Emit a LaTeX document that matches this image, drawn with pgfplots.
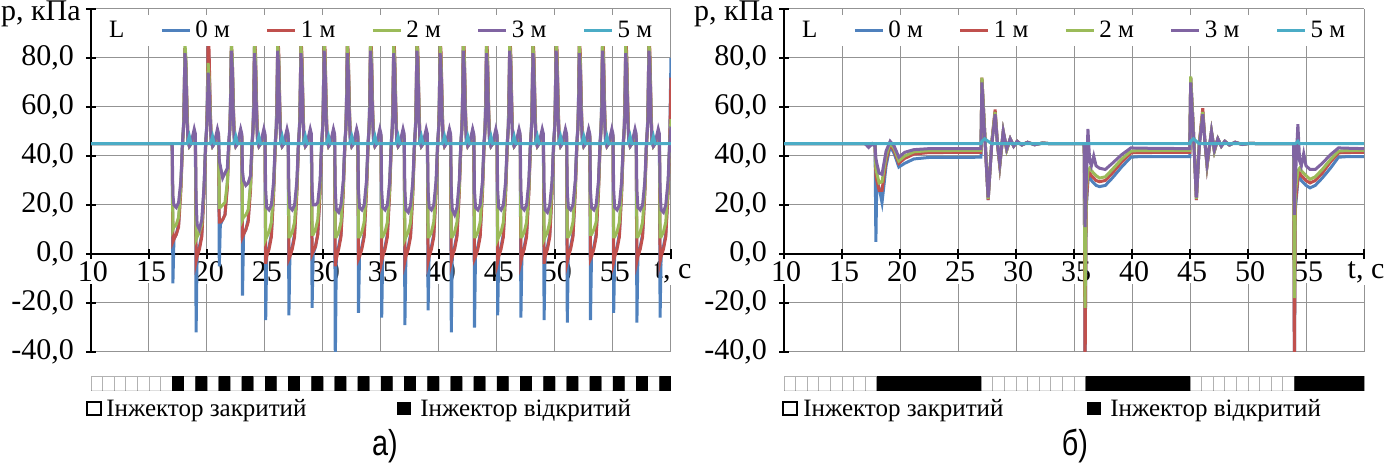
\documentclass[border=0pt]{standalone}
\usepackage{fontspec}
\setmainfont{Liberation Serif}
\setsansfont{Liberation Sans}
\usepackage{pgfplots}
\usepackage{pgfplotstable}
\pgfplotsset{compat=1.18}

\definecolor{c0}{HTML}{4F81BD}
\definecolor{c1}{HTML}{C0504D}
\definecolor{c2}{HTML}{9BBB59}
\definecolor{c3}{HTML}{8064A2}
\definecolor{c5}{HTML}{4BACC6}
\newcommand\fs{\fontsize{12.5}{14}\selectfont}
\newcommand\ft{\fontsize{15}{17}\selectfont}

% a) pulsed mode: t, L=0,1,2,3,5 m
\pgfplotstableread[row sep=\\]{
t b r g p c\\
10 45 45 45 45 45\\ 16.98 45 45 45 45 45\\
17.00 45 45 45 45 45\\ 17.06 -12 5 10 24 45\\ 17.15 6 6 11 20 45\\ 17.35 8 8 12 19 45\\ 17.55 12 11 15 21 45\\ 17.75 28 26 28 30 45\\ 17.88 45 43 44 45 45\\ 17.97 52 51 51 51 45\\ 18.02 62 60 58 56 45\\ 18.10 84 84 86 82 45\\ 18.18 78 78 80 75 45\\ 18.28 58 60 58 55 45\\ 18.36 46 47 47 46 46\\ 18.48 44 44 44 44 48\\ 18.62 45 45 45 45 45\\ 18.90 49 49 50 51 45\\
19.00 47 48 48 49 45\\ 19.06 -32 -3 6 22 45\\ 19.15 0 -1 7 12 45\\ 19.35 3 2 9 10 45\\ 19.55 8 7 12 14 45\\ 19.75 27 25 27 28 45\\ 19.88 45 43 44 45 45\\ 19.97 52 51 51 51 45\\ 20.02 62 60 58 56 45\\ 20.10 85 89 78 74 45\\ 20.18 79 83 72 68 45\\ 20.28 58 60 58 55 45\\ 20.36 46 47 47 46 46\\ 20.48 44 44 44 44 48\\ 20.62 45 45 45 45 45\\ 20.90 49 49 50 51 45\\
21.00 47 48 48 49 45\\ 21.06 -5 13 19 38 45\\ 21.15 12 13 19 36 45\\ 21.35 14 14 20 31 45\\ 21.55 16 16 21 33 45\\ 21.75 28 27 29 35 45\\ 21.88 45 43 44 46 45\\ 21.97 52 51 51 51 45\\ 22.02 62 60 58 56 45\\ 22.10 84 86 86 83 45\\ 22.18 78 80 80 76 45\\ 22.28 58 60 58 55 45\\ 22.36 46 47 47 46 46\\ 22.48 44 44 44 44 48\\ 22.62 45 45 45 45 45\\ 22.90 49 49 50 51 45\\
23.00 47 48 48 49 45\\ 23.06 -17 7 14 34 45\\ 23.15 8 8 15 30 45\\ 23.35 10 10 16 28 45\\ 23.55 14 13 18 29 45\\ 23.75 28 26 28 32 45\\ 23.88 45 43 44 45 45\\ 23.97 52 51 51 51 45\\ 24.02 62 60 58 56 45\\ 24.10 86 88 86 82 45\\ 24.18 80 82 80 75 45\\ 24.28 58 60 58 55 45\\ 24.36 46 47 47 46 46\\ 24.48 44 44 44 44 48\\ 24.62 45 45 45 45 45\\ 24.90 49 49 50 51 45\\
25.00 47 48 48 49 45\\ 25.06 -27 -4 6 26 45\\ 25.15 0 -1 7 19 45\\ 25.35 3 2 9 18 45\\ 25.55 8 7 13 20 45\\ 25.75 27 25 27 30 45\\ 25.88 45 43 44 45 45\\ 25.97 52 51 51 51 45\\ 26.02 62 60 58 56 45\\ 26.10 86 89 86 83 45\\ 26.18 80 83 80 76 45\\ 26.28 58 60 58 55 45\\ 26.36 46 47 47 46 46\\ 26.48 44 44 44 44 48\\ 26.62 45 45 45 45 45\\ 26.90 49 49 50 51 45\\
27.00 47 48 48 49 45\\ 27.06 -25 -2 7 26 45\\ 27.15 0 -1 7 19 45\\ 27.35 3 2 9 18 45\\ 27.55 8 7 13 20 45\\ 27.75 27 25 27 30 45\\ 27.88 45 43 44 45 45\\ 27.97 52 51 51 51 45\\ 28.02 62 60 58 56 45\\ 28.10 85 88 85 82 45\\ 28.18 79 82 79 75 45\\ 28.28 58 60 58 55 45\\ 28.36 46 47 47 46 46\\ 28.48 44 44 44 44 48\\ 28.62 45 45 45 45 45\\ 28.90 49 49 50 51 45\\
29.00 47 48 48 49 45\\ 29.06 -22 0 8 26 45\\ 29.15 0 1 8 20 45\\ 29.35 3 3 10 20 45\\ 29.55 8 8 14 21 45\\ 29.75 27 25 27 30 45\\ 29.88 45 43 44 45 45\\ 29.97 52 51 51 51 45\\ 30.02 62 60 58 56 45\\ 30.10 86 89 86 83 45\\ 30.18 80 83 80 76 45\\ 30.28 58 60 58 55 45\\ 30.36 46 47 47 46 46\\ 30.48 44 44 44 44 48\\ 30.62 45 45 45 45 45\\ 30.90 49 49 50 51 45\\
31.00 47 48 48 49 45\\ 31.06 -45 -5 7 26 45\\ 31.15 0 -2 7 18 45\\ 31.35 3 2 9 17 45\\ 31.55 8 7 13 20 45\\ 31.75 27 25 27 30 45\\ 31.88 45 43 44 45 45\\ 31.97 52 51 51 51 45\\ 32.02 62 60 58 56 45\\ 32.10 85 88 85 82 45\\ 32.18 79 82 79 75 45\\ 32.28 58 60 58 55 45\\ 32.36 46 47 47 46 46\\ 32.48 44 44 44 44 48\\ 32.62 45 45 45 45 45\\ 32.90 49 49 50 51 45\\
33.00 47 48 48 49 45\\ 33.06 -24 -2 7 26 45\\ 33.15 0 -1 7 19 45\\ 33.35 3 2 9 18 45\\ 33.55 8 7 13 20 45\\ 33.75 27 25 27 30 45\\ 33.88 45 43 44 45 45\\ 33.97 52 51 51 51 45\\ 34.02 62 60 58 56 45\\ 34.10 86 89 86 83 45\\ 34.18 80 83 80 76 45\\ 34.28 58 60 58 55 45\\ 34.36 46 47 47 46 46\\ 34.48 44 44 44 44 48\\ 34.62 45 45 45 45 45\\ 34.90 49 49 50 51 45\\
35.00 47 48 48 49 45\\ 35.06 -26 -3 7 26 45\\ 35.15 0 -1 7 19 45\\ 35.35 3 2 9 18 45\\ 35.55 8 7 13 20 45\\ 35.75 27 25 27 30 45\\ 35.88 45 43 44 45 45\\ 35.97 52 51 51 51 45\\ 36.02 62 60 58 56 45\\ 36.10 85 88 85 82 45\\ 36.18 79 82 79 75 45\\ 36.28 58 60 58 55 45\\ 36.36 46 47 47 46 46\\ 36.48 44 44 44 44 48\\ 36.62 45 45 45 45 45\\ 36.90 49 49 50 51 45\\
37.00 47 48 48 49 45\\ 37.06 -29 -3 6 26 45\\ 37.15 0 -1 7 18 45\\ 37.35 3 2 9 17 45\\ 37.55 8 7 13 20 45\\ 37.75 27 25 27 30 45\\ 37.88 45 43 44 45 45\\ 37.97 52 51 51 51 45\\ 38.02 62 60 58 56 45\\ 38.10 86 89 86 83 45\\ 38.18 80 83 80 76 45\\ 38.28 58 60 58 55 45\\ 38.36 46 47 47 46 46\\ 38.48 44 44 44 44 48\\ 38.62 45 45 45 45 45\\ 38.90 49 49 50 51 45\\
39.00 47 48 48 49 45\\ 39.06 -23 -3 7 26 45\\ 39.15 0 -1 7 19 45\\ 39.35 3 2 9 18 45\\ 39.55 8 7 13 20 45\\ 39.75 27 25 27 30 45\\ 39.88 45 43 44 45 45\\ 39.97 52 51 51 51 45\\ 40.02 62 60 58 56 45\\ 40.10 85 88 85 82 45\\ 40.18 79 82 79 75 45\\ 40.28 58 60 58 55 45\\ 40.36 46 47 47 46 46\\ 40.48 44 44 44 44 48\\ 40.62 45 45 45 45 45\\ 40.90 49 49 50 51 45\\
41.00 47 48 48 49 45\\ 41.06 -32 -3 7 26 45\\ 41.15 0 -1 7 18 45\\ 41.35 3 2 9 16 45\\ 41.55 8 7 13 19 45\\ 41.75 27 25 27 30 45\\ 41.88 45 43 44 45 45\\ 41.97 52 51 51 51 45\\ 42.02 62 60 58 56 45\\ 42.10 86 89 86 83 45\\ 42.18 80 83 80 76 45\\ 42.28 58 60 58 55 45\\ 42.36 46 47 47 46 46\\ 42.48 44 44 44 44 48\\ 42.62 45 45 45 45 45\\ 42.90 49 49 50 51 45\\
43.00 47 48 48 49 45\\ 43.06 -30 -2 7 26 45\\ 43.15 0 -1 7 19 45\\ 43.35 3 2 9 18 45\\ 43.55 8 7 13 20 45\\ 43.75 27 25 27 30 45\\ 43.88 45 43 44 45 45\\ 43.97 52 51 51 51 45\\ 44.02 62 60 58 56 45\\ 44.10 85 88 85 82 45\\ 44.18 79 82 79 75 45\\ 44.28 58 60 58 55 45\\ 44.36 46 47 47 46 46\\ 44.48 44 44 44 44 48\\ 44.62 45 45 45 45 45\\ 44.90 49 49 50 51 45\\
45.00 47 48 48 49 45\\ 45.06 -25 -3 6 26 45\\ 45.15 0 -1 7 19 45\\ 45.35 3 2 9 18 45\\ 45.55 8 7 13 20 45\\ 45.75 27 25 27 30 45\\ 45.88 45 43 44 45 45\\ 45.97 52 51 51 51 45\\ 46.02 62 60 58 56 45\\ 46.10 86 89 86 83 45\\ 46.18 80 83 80 76 45\\ 46.28 58 60 58 55 45\\ 46.36 46 47 47 46 46\\ 46.48 44 44 44 44 48\\ 46.62 45 45 45 45 45\\ 46.90 49 49 50 51 45\\
47.00 47 48 48 49 45\\ 47.06 -26 -3 7 26 45\\ 47.15 0 -1 7 19 45\\ 47.35 3 2 9 18 45\\ 47.55 8 7 13 20 45\\ 47.75 27 25 27 30 45\\ 47.88 45 43 44 45 45\\ 47.97 52 51 51 51 45\\ 48.02 62 60 58 56 45\\ 48.10 85 88 85 82 45\\ 48.18 79 82 79 75 45\\ 48.28 58 60 58 55 45\\ 48.36 46 47 47 46 46\\ 48.48 44 44 44 44 48\\ 48.62 45 45 45 45 45\\ 48.90 49 49 50 51 45\\
49.00 47 48 48 49 45\\ 49.06 -27 -4 6 26 45\\ 49.15 0 -1 7 18 45\\ 49.35 3 2 9 17 45\\ 49.55 8 7 13 20 45\\ 49.75 27 25 27 30 45\\ 49.88 45 43 44 45 45\\ 49.97 52 51 51 51 45\\ 50.02 62 60 58 56 45\\ 50.10 86 89 86 83 45\\ 50.18 80 83 80 76 45\\ 50.28 58 60 58 55 45\\ 50.36 46 47 47 46 46\\ 50.48 44 44 44 44 48\\ 50.62 45 45 45 45 45\\ 50.90 49 49 50 51 45\\
51.00 47 48 48 49 45\\ 51.06 -28 -3 7 26 45\\ 51.15 0 -1 7 19 45\\ 51.35 3 2 9 18 45\\ 51.55 8 7 13 20 45\\ 51.75 27 25 27 30 45\\ 51.88 45 43 44 45 45\\ 51.97 52 51 51 51 45\\ 52.02 62 60 58 56 45\\ 52.10 85 88 85 82 45\\ 52.18 79 82 79 75 45\\ 52.28 58 60 58 55 45\\ 52.36 46 47 47 46 46\\ 52.48 44 44 44 44 48\\ 52.62 45 45 45 45 45\\ 52.90 49 49 50 51 45\\
53.00 47 48 48 49 45\\ 53.06 -27 -2 8 26 45\\ 53.15 0 -1 8 19 45\\ 53.35 3 2 10 18 45\\ 53.55 8 7 13 20 45\\ 53.75 27 25 27 30 45\\ 53.88 45 43 44 45 45\\ 53.97 52 51 51 51 45\\ 54.02 62 60 58 56 45\\ 54.10 86 89 86 83 45\\ 54.18 80 83 80 76 45\\ 54.28 58 60 58 55 45\\ 54.36 46 47 47 46 46\\ 54.48 44 44 44 44 48\\ 54.62 45 45 45 45 45\\ 54.90 49 49 50 51 45\\
55.00 47 48 48 49 45\\ 55.06 -24 -3 7 26 45\\ 55.15 0 -1 7 19 45\\ 55.35 3 2 9 18 45\\ 55.55 8 7 13 20 45\\ 55.75 27 25 27 30 45\\ 55.88 45 43 44 45 45\\ 55.97 52 51 51 51 45\\ 56.02 62 60 58 56 45\\ 56.10 85 88 85 82 45\\ 56.18 79 82 79 75 45\\ 56.28 58 60 58 55 45\\ 56.36 46 47 47 46 46\\ 56.48 44 44 44 44 48\\ 56.62 45 45 45 45 45\\ 56.90 49 49 50 51 45\\
57.00 47 48 48 49 45\\ 57.06 -28 -3 7 26 45\\ 57.15 0 -1 7 19 45\\ 57.35 3 2 9 18 45\\ 57.55 8 7 13 20 45\\ 57.75 27 25 27 30 45\\ 57.88 45 43 44 45 45\\ 57.97 52 51 51 51 45\\ 58.02 62 60 58 56 45\\ 58.10 86 89 86 83 45\\ 58.18 80 83 80 76 45\\ 58.28 58 60 58 55 45\\ 58.36 46 47 47 46 46\\ 58.48 44 44 44 44 48\\ 58.62 45 45 45 45 45\\ 58.90 49 49 50 51 45\\
59.00 47 48 48 49 45\\ 59.06 -26 -3 7 26 45\\ 59.15 0 -1 7 18 45\\ 59.35 3 2 9 17 45\\ 59.55 8 7 13 20 45\\ 59.75 27 25 27 30 45\\ 59.88 45 43 44 45 45\\ 60.00 80 72 55 52 45\\
}\dataA

% b) long open/close periods
\pgfplotstableread[row sep=\\]{
t b r g p c\\
10 45 45 45 45 45\\ 17.0 45 45 45 45 45\\ 17.3 44 44 44 43.5 45\\ 17.6 45 45 45 45 45\\ 17.85 44 44 44 44 45\\
17.92 5 32 35 39 45\\ 18.0 30 30 33 37 45\\ 18.2 27 26 29 33 45\\ 18.45 21 26 29.5 32.5 45\\ 18.8 36 38 40 42 45\\
19.15 44 45 45.5 46 45\\ 19.5 41 42 43 44 45\\ 19.9 35.5 37 38 39.5 45\\ 20.4 37 39 40 41.5 45\\ 21.2 38.8 40.8 41.7 42.6 45\\
22.5 39.4 41.4 42.2 43 45\\ 26.98 39.5 41.5 42.3 43 45\\
27.06 71 72 72 70 46\\ 27.3 50 50 50 48 47\\ 27.6 22 22 22.5 23 46\\ 27.9 45 45 45 44 45\\ 28.2 58 59 58 57 45\\
28.4 45 45 45 45 45\\ 28.6 36 36 36.5 37 45\\ 28.9 50 50 50 50 45\\ 29.2 42.5 42.5 42.5 43 45\\ 29.5 47 47 47 47 45\\
29.8 44 44 44 44 45\\ 30.1 46 46 46 46 45\\ 30.5 44.5 44.5 44.5 44.5 45\\ 31.0 45.6 45.6 45.6 45.6 45\\
31.6 44.6 44.6 44.6 44.6 45\\ 32.3 45.3 45.3 45.3 45.3 45\\ 33.0 45 45 45 45 45\\ 35.88 45 45 45 45 45\\
35.95 -50 -50 -22 11 45\\ 36.05 18 20 25 28 45\\ 36.2 30 31 34 51 45\\ 36.35 32 33 35 38 45\\ 36.5 30 32 34 36 45\\
36.7 29 31 33 40 45\\ 36.9 28 30 32 36 45\\ 37.2 27.5 29.5 31 35 45\\ 37.7 28 30 31.5 34.5 45\\ 38.3 31 33 34.5 37 45\\
39.1 35.5 37.5 38.7 40.5 45\\ 39.9 39.5 41.3 42 43.3 45\\ 40.5 39.7 41.4 42.2 43.2 45\\ 44.98 39.7 41.5 42.3 43 45\\
45.06 72 72 72.5 70 46\\ 45.3 50 50 50 48 47\\ 45.55 22 22 22.5 23 46\\ 45.8 45 45 45 44 45\\ 46.1 58 59.5 58 57 45\\
46.3 45 45 45 45 45\\ 46.47 36 36 36.5 37 45\\ 46.85 50 50 50 50 45\\ 47.1 42 42 42 42.5 45\\ 47.4 47 47 47 47 45\\
47.7 44 44 44 44 45\\ 48.0 46 46 46 46 45\\ 48.4 44.5 44.5 44.5 44.5 45\\ 48.9 45.6 45.6 45.6 45.6 45\\
49.5 44.7 44.7 44.7 44.7 45\\ 50.2 45.2 45.2 45.2 45.2 45\\ 51.0 45 45 45 45 45\\ 53.93 45 45 45 45 45\\
54.0 -50 -50 -18 16 45\\ 54.08 18 20 25 30 45\\ 54.3 30 31 34 53 46\\ 54.45 32 33 35 38 45\\ 54.6 30 32 34 36 45\\
54.8 29 31 33 41 45\\ 55.0 28 30 32 36 45\\ 55.35 27 29 30.5 34.5 45\\ 55.8 28 30 31.5 34.5 45\\ 56.4 31 33 34.5 37 45\\
57.1 35 37.5 38.5 40.5 45\\ 57.8 39.5 41.3 42 43.3 45\\ 58.4 39.7 41.4 42.2 43.2 45\\ 60 39.7 41.5 42.3 43 45\\
}\dataB

\pgfplotsset{
  pres/.style={
    scale only axis, width=290pt, height=171.5pt,
    xmin=10, xmax=60, ymin=-40, ymax=100,
    axis x line=middle, axis y line=left,
    every inner x axis line/.append style={-},
    every outer y axis line/.append style={-},
    axis line style={-, black, line width=0.8pt},
    hide obscured x ticks=false, hide obscured y ticks=false,
    xtick={10,15,...,60},
    xticklabels={10,15,20,25,30,35,40,45,50,55,{t, с}},
    ytick={-40,-20,...,80},
    extra y ticks={100}, extra y tick labels={},
    grid=major, grid style={gray!85, line width=0.5pt},
    tick align=center, major tick length=5pt,
    tick style={black, line width=0.8pt},
    /pgf/number format/assume math mode=true,
    yticklabel style={/pgf/number format/.cd, fixed, fixed zerofill, precision=1, use comma, /tikz/.cd, xshift=-2.5pt},
    tick label style={font=\ft},
    xticklabel style={fill=white, inner sep=1pt, xshift=1pt},
    legend style={at={(0.02,0.985)}, anchor=north west, draw=none, fill=white,
      font=\fs, legend columns=-1, inner sep=1pt,
      /tikz/every even column/.append style={column sep=16pt}},
    legend image code/.code={\draw[#1, line width=1.5pt] (0pt,0pt) -- (14pt,0pt);},
    every axis plot/.append style={line width=1.5pt},
  },
  strip/.style={
    scale only axis, width=290pt, height=7.5pt,
    xmin=10, xmax=60, ymin=0, ymax=1,
    xtick=\empty, ytick=\empty,
    axis line style={gray!70, line width=0.5pt},
  },
}

\begin{document}
\begin{tikzpicture}
\useasboundingbox (0,0) rectangle (695.5pt,233pt);

% ---------- a)
\begin{axis}[pres, name=A, at={(45.5pt,57pt)}, anchor=south west]
\addlegendimage{empty legend}\addlegendentry{L}
\addplot[c0] table[x=t,y=b]{\dataA}; \addlegendentry{0 м}
\addplot[c1] table[x=t,y=r]{\dataA}; \addlegendentry{1 м}
\addplot[c2] table[x=t,y=g]{\dataA}; \addlegendentry{2 м}
\addplot[c3] table[x=t,y=p]{\dataA}; \addlegendentry{3 м}
\addplot[c5] table[x=t,y=c]{\dataA}; \addlegendentry{5 м}
\end{axis}
\node[anchor=east, font=\ft, inner sep=0pt] at ([xshift=-5pt,yshift=-2.5pt]A.north west) {p, кПа};

\begin{axis}[strip, at={(45.5pt,37.5pt)}, anchor=south west]
\addplot[ybar interval, fill=white, draw=gray!60, line width=0.4pt] coordinates {
(10,1)(11,1)(12,1)(13,1)(14,1)(15,1)(16,1)(17,1)(18,1)(19,1)(20,1)(21,1)(22,1)(23,1)(24,1)(25,1)(26,1)
(27,1)(28,1)(29,1)(30,1)(31,1)(32,1)(33,1)(34,1)(35,1)(36,1)(37,1)(38,1)(39,1)(40,1)(41,1)(42,1)(43,1)
(44,1)(45,1)(46,1)(47,1)(48,1)(49,1)(50,1)(51,1)(52,1)(53,1)(54,1)(55,1)(56,1)(57,1)(58,1)(59,1)(60,1)};
\addplot[const plot, fill=black, draw=none] coordinates {
(10,0)(17,1)(18,0)(19,1)(20,0)(21,1)(22,0)(23,1)(24,0)(25,1)(26,0)(27,1)(28,0)(29,1)(30,0)(31,1)(32,0)
(33,1)(34,0)(35,1)(36,0)(37,1)(38,0)(39,1)(40,0)(41,1)(42,0)(43,1)(44,0)(45,1)(46,0)(47,1)(48,0)(49,1)
(50,0)(51,1)(52,0)(53,1)(54,0)(55,1)(56,0)(57,1)(58,0)(59,1)(60,1)} \closedcycle;
\end{axis}

\draw[black, line width=0.6pt, fill=white] (43.5pt,25.5pt) rectangle ++(7pt,6.5pt);
\node[anchor=base west, font=\fs, inner sep=0pt] at (53pt,25pt) {Інжектор закритий};
\fill[black] (198.5pt,25.5pt) rectangle ++(7pt,6.5pt);
\node[anchor=base west, font=\fs, inner sep=0pt] at (210pt,25pt) {Інжектор відкритий};
\node[font=\fontsize{18}{20}\selectfont\sffamily] at (192.5pt,10pt) {\scalebox{0.8}[1]{а)}};

% ---------- б)
\begin{axis}[pres, name=B, at={(392pt,57pt)}, anchor=south west]
\addlegendimage{empty legend}\addlegendentry{L}
\addplot[c0] table[x=t,y=b]{\dataB}; \addlegendentry{0 м}
\addplot[c1] table[x=t,y=r]{\dataB}; \addlegendentry{1 м}
\addplot[c2] table[x=t,y=g]{\dataB}; \addlegendentry{2 м}
\addplot[c3] table[x=t,y=p]{\dataB}; \addlegendentry{3 м}
\addplot[c5] table[x=t,y=c]{\dataB}; \addlegendentry{5 м}
\end{axis}
\node[anchor=east, font=\ft, inner sep=0pt] at ([xshift=-5pt,yshift=-2.5pt]B.north west) {p, кПа};

\begin{axis}[strip, at={(392pt,37.5pt)}, anchor=south west]
\addplot[ybar interval, fill=white, draw=gray!60, line width=0.4pt] coordinates {
(10,1)(11,1)(12,1)(13,1)(14,1)(15,1)(16,1)(17,1)(18,1)(19,1)(20,1)(21,1)(22,1)(23,1)(24,1)(25,1)(26,1)
(27,1)(28,1)(29,1)(30,1)(31,1)(32,1)(33,1)(34,1)(35,1)(36,1)(37,1)(38,1)(39,1)(40,1)(41,1)(42,1)(43,1)
(44,1)(45,1)(46,1)(47,1)(48,1)(49,1)(50,1)(51,1)(52,1)(53,1)(54,1)(55,1)(56,1)(57,1)(58,1)(59,1)(60,1)};
\addplot[const plot, fill=black, draw=none] coordinates {
(10,0)(18,1)(27,0)(36,1)(45,0)(54,1)(60,1)} \closedcycle;
\end{axis}

\draw[black, line width=0.6pt, fill=white] (391.5pt,25.5pt) rectangle ++(7pt,6.5pt);
\node[anchor=base west, font=\fs, inner sep=0pt] at (401.5pt,25pt) {Інжектор закритий};
\fill[black] (543.5pt,25.5pt) rectangle ++(7pt,6.5pt);
\node[anchor=base west, font=\fs, inner sep=0pt] at (555pt,25pt) {Інжектор відкритий};
\node[font=\fontsize{18}{20}\selectfont\sffamily] at (537.5pt,10pt) {\scalebox{0.8}[1]{б)}};
\end{tikzpicture}
\end{document}
